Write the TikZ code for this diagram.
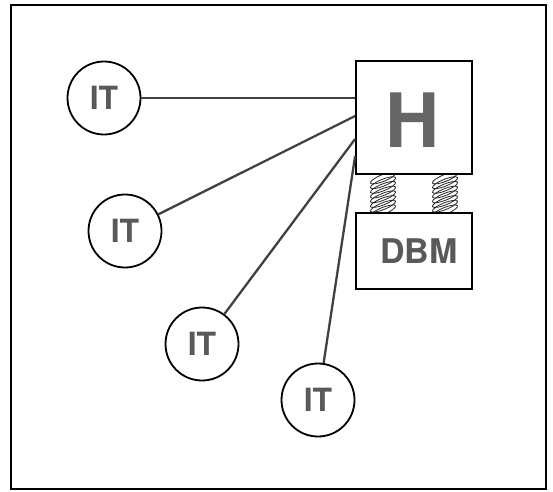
\documentclass[tikz,border=0pt]{standalone}
\usepackage{fontspec}
\setmainfont{TeX Gyre Heros}
\begin{document}
\begin{tikzpicture}[x=1pt,y=-1pt,
  frameline/.style={line width=2pt,black},
  terminal/.style={circle,draw,line width=1.8pt,minimum size=73pt,inner sep=0pt,
    font=\fontsize{32}{32}\selectfont\bfseries,text=black!65},
  hostbox/.style={draw,line width=1.8pt,inner sep=0pt},
  link/.style={line width=2.3pt,black!75},
  loop/.style={line width=0.8pt,black!85}]
\useasboundingbox (0,0) rectangle (553,491);
\draw[frameline] (10.5,5) rectangle (546,489);
% coupling springs between host and database machine
\foreach \sx in {383,445}{
  \foreach \k in {0,...,7}{
    \draw[loop] (\sx,178+4.7*\k) ellipse [x radius=13.5, y radius=3.4, rotate=22];
  }
}
% host and database machine
\node[hostbox,fill=white,minimum width=116pt,minimum height=113pt] (H) at (414,117.5) {};
\node[font=\fontsize{75}{75}\selectfont\bfseries,text=black!60] at (413,120) {H};
\node[hostbox,fill=white,minimum width=116pt,minimum height=76pt] (D) at (414,251) {};
\node[font=\fontsize{34}{34}\selectfont\bfseries,text=black!65] at (419,251) {DBM};
% terminals
\node[terminal] (t1) at (104,98) {IT};
\node[terminal] (t2) at (125,231) {IT};
\node[terminal] (t3) at (202,344) {IT};
\node[terminal] (t4) at (318,400) {IT};
\coordinate (h1) at (H.west |- 0,98);
\coordinate (h2) at (H.west |- 0,116);
\coordinate (h3) at (H.west |- 0,139);
\coordinate (h4) at (H.west |- 0,156);
\draw[link] (t1) -- (h1);
\draw[link] (t2) -- (h2);
\draw[link] (t3) -- (h3);
\draw[link] (t4) -- (h4);
\end{tikzpicture}
\end{document}
